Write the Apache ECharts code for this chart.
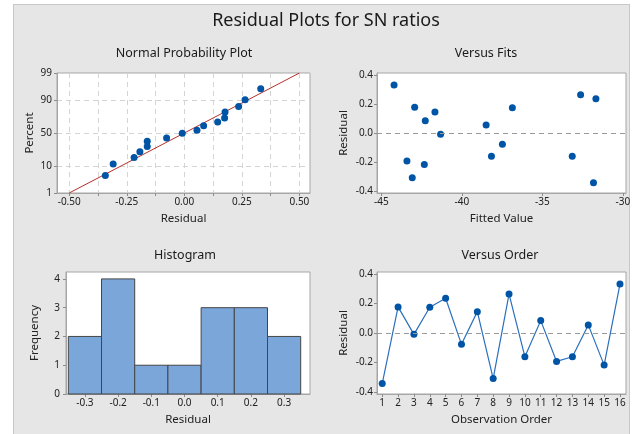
<!DOCTYPE html>
<html><head><meta charset="utf-8">
<script src="https://cdn.jsdelivr.net/npm/echarts@6/dist/echarts.min.js"></script>
<style>
html,body{margin:0;padding:0;background:#fff;}
#frame{position:absolute;left:13px;top:4px;width:617px;height:440px;background:#e6e6e6;border:1px solid #c8c8c8;box-sizing:border-box;}
#c{position:absolute;left:0;top:0;width:641px;height:434px;}
</style>
</head><body><div id="frame"></div><div id="c"></div>
<script>
// ---- data ----
const obsOrder = [1,2,3,4,5,6,7,8,9,10,11,12,13,14,15,16];
const residuals = [-0.343,0.177,-0.009,0.175,0.236,-0.077,0.145,-0.309,0.264,-0.161,0.084,-0.193,-0.161,0.055,-0.218,0.332];
const fittedValues = [-31.82,-42.93,-41.32,-36.86,-31.67,-37.48,-41.67,-43.08,-32.62,-38.16,-42.27,-43.41,-33.14,-38.49,-42.33,-44.21];
const probPercents = [5.0,11.4,17.2,23.4,30.2,37.3,42.3,49.5,54.1,61.2,66.5,72.0,79.3,84.7,90.2,95.7];
const fitLineX = [-0.5, 0.5];
const fitLineP = [1, 99];
const histCenters = [-0.3,-0.2,-0.1,0.0,0.1,0.2,0.3];
const histCounts = [2,4,1,1,3,3,2];
const binWidth = 0.1;
const probTicks = [1,10,50,90,99];
const probXTicks = [-0.5,-0.375,-0.25,-0.125,0,0.125,0.25,0.375,0.5];
const probXLabels = [-0.5,-0.25,0,0.25,0.5];
const fitXTicks = [-45,-40,-35,-30];
const residTicks = [-0.4,-0.2,0,0.2,0.4];
const freqTicks = [0,1,2,3,4];

// inverse standard normal CDF (Acklam)
function normInv(p){
  const a=[-3.969683028665376e+01,2.209460984245205e+02,-2.759285104469687e+02,1.383577518672690e+02,-3.066479806614716e+01,2.506628277459239e+00];
  const b=[-5.447609879822406e+01,1.615858368580409e+02,-1.556989798598866e+02,6.680131188771972e+01,-1.328068155288572e+01];
  const c=[-7.784894002430293e-03,-3.223964580411365e-01,-2.400758277161838e+00,-2.549732539343734e+00,4.374664141464968e+00,2.938163982698783e+00];
  const d=[7.784695709041462e-03,3.224671290700398e-01,2.445134137142996e+00,3.754408661907416e+00];
  const pl=0.02425;
  let q,r;
  if(p<pl){q=Math.sqrt(-2*Math.log(p));return (((((c[0]*q+c[1])*q+c[2])*q+c[3])*q+c[4])*q+c[5])/((((d[0]*q+d[1])*q+d[2])*q+d[3])*q+1);}
  if(p>1-pl){q=Math.sqrt(-2*Math.log(1-p));return -(((((c[0]*q+c[1])*q+c[2])*q+c[3])*q+c[4])*q+c[5])/((((d[0]*q+d[1])*q+d[2])*q+d[3])*q+1);}
  q=p-0.5;r=q*q;
  return (((((a[0]*r+a[1])*r+a[2])*r+a[3])*r+a[4])*r+a[5])*q/(((((b[0]*r+b[1])*r+b[2])*r+b[3])*r+b[4])*r+1);
}
const z = p => normInv(p/100);

const sortedRes = residuals.slice().sort((a,b)=>a-b);
const probData = sortedRes.map((r,i)=>[r, z(probPercents[i])]);
const fitLineData = fitLineX.map((x,i)=>[x, z(fitLineP[i])]);
const probTickZ = probTicks.map(z);
const fitsData = fittedValues.map((f,i)=>[f, residuals[i]]);
const orderData = obsOrder.map((o,i)=>[o, residuals[i]]);
const histData = histCenters.map((c,i)=>[c, histCounts[i]]);

const FONT = '"Noto Sans", "Open Sans", sans-serif';
const AX = '#a6a6a6';
const BLUE = '#0054a6';
const LBL = '#222';

function axisBase(extra){
  return Object.assign({
    type:'value',
    axisLine:{show:true, onZero:false, lineStyle:{color:AX, width:1}},
    axisTick:{show:true, length:3, lineStyle:{color:'#8c8c8c'}},
    axisLabel:{color:LBL, fontSize:10, fontFamily:FONT, margin:4},
    splitLine:{show:false},
    nameLocation:'middle',
    nameTextStyle:{color:'#222', fontSize:11.5, fontFamily:FONT}
  }, extra);
}
const zeroLine = {silent:true, symbol:'none', label:{show:false},
  lineStyle:{color:'#9a9a9a', type:[5,4], width:1}, data:[{yAxis:0}]};

const gridBase = {show:true, backgroundColor:'#fff', borderColor:AX, borderWidth:1, containLabel:false};

const option = {
  animation:false,
  backgroundColor:'transparent',
  textStyle:{fontFamily:FONT},
  grid:[
    Object.assign({left:57, top:73, width:253, height:120}, gridBase),
    Object.assign({left:377, top:73, width:249, height:120}, gridBase),
    Object.assign({left:66, top:272, width:244, height:122}, gridBase),
    Object.assign({left:377, top:272, width:249, height:122}, gridBase)
  ],
  xAxis:[
    axisBase({gridIndex:0, min:-0.553, max:0.546, name:'Residual', nameGap:20,
      axisTick:{show:true, length:3, customValues:probXTicks, lineStyle:{color:'#8c8c8c'}},
      axisLabel:{color:LBL, fontSize:10, fontFamily:FONT, margin:4, customValues:probXLabels, formatter:v=>v.toFixed(2)},
      splitLine:{show:true, lineStyle:{color:'#d4d4d4', type:[5,4]}}}),
    axisBase({gridIndex:1, min:-45.27, max:-29.8, name:'Fitted Value', nameGap:20,
      axisTick:{show:true, length:3, customValues:fitXTicks, lineStyle:{color:'#8c8c8c'}},
      axisLabel:{color:LBL, fontSize:10, fontFamily:FONT, margin:4, customValues:fitXTicks, formatter:v=>String(v)}}),
    axisBase({gridIndex:2, min:-0.357, max:0.378, name:'Residual', nameGap:20,
      axisTick:{show:true, length:3, customValues:histCenters, lineStyle:{color:'#8c8c8c'}},
      axisLabel:{color:LBL, fontSize:10, fontFamily:FONT, margin:4, customValues:histCenters, formatter:v=>v.toFixed(1)}}),
    axisBase({gridIndex:3, min:0.67, max:16.38, name:'Observation Order', nameGap:20,
      axisTick:{show:true, length:3, customValues:obsOrder, lineStyle:{color:'#8c8c8c'}},
      axisLabel:{color:LBL, fontSize:10, fontFamily:FONT, margin:4, customValues:obsOrder, formatter:v=>String(v)}})
  ],
  yAxis:[
    axisBase({gridIndex:0, min:z(1), max:z(99), name:'Percent', nameGap:21,
      axisTick:{show:true, length:3, customValues:probTickZ, lineStyle:{color:'#8c8c8c'}},
      axisLabel:{color:LBL, fontSize:10, fontFamily:FONT, margin:5, customValues:probTickZ,
        formatter:v=>{let best=probTicks[0],bd=1e9;probTicks.forEach((p,i)=>{const d=Math.abs(probTickZ[i]-v);if(d<bd){bd=d;best=p;}});return String(best);}},
      splitLine:{show:true, lineStyle:{color:'#d4d4d4', type:[5,4]}}}),
    axisBase({gridIndex:1, min:-0.414, max:0.414, name:'Residual', nameGap:27,
      axisTick:{show:true, length:3, customValues:residTicks, lineStyle:{color:'#8c8c8c'}},
      axisLabel:{color:LBL, fontSize:10, fontFamily:FONT, margin:4, customValues:residTicks, formatter:v=>v.toFixed(1)}}),
    axisBase({gridIndex:2, min:0, max:4.24, name:'Frequency', nameGap:25,
      axisTick:{show:true, length:3, customValues:freqTicks, lineStyle:{color:'#8c8c8c'}},
      axisLabel:{color:LBL, fontSize:10, fontFamily:FONT, margin:6, customValues:freqTicks, formatter:v=>String(v)}}),
    axisBase({gridIndex:3, min:-0.414, max:0.414, name:'Residual', nameGap:27,
      axisTick:{show:true, length:3, customValues:residTicks, lineStyle:{color:'#8c8c8c'}},
      axisLabel:{color:LBL, fontSize:10, fontFamily:FONT, margin:4, customValues:residTicks, formatter:v=>v.toFixed(1)}})
  ],
  series:[
    {type:'line', xAxisIndex:0, yAxisIndex:0, data:fitLineData, symbol:'none', z:2,
      lineStyle:{color:'#b5302a', width:1}},
    {type:'scatter', xAxisIndex:0, yAxisIndex:0, data:probData, symbolSize:7, z:3,
      itemStyle:{color:BLUE, opacity:1}},
    {type:'scatter', xAxisIndex:1, yAxisIndex:1, data:fitsData, symbolSize:7, z:3,
      itemStyle:{color:BLUE, opacity:1}, markLine:zeroLine},
    {type:'custom', xAxisIndex:2, yAxisIndex:2, data:histData, z:2,
      renderItem:(params, api)=>{
        const c = api.value(0), n = api.value(1);
        const p0 = api.coord([c-binWidth/2, n]);
        const p1 = api.coord([c+binWidth/2, 0]);
        return {type:'rect', shape:{x:p0[0], y:p0[1], width:p1[0]-p0[0], height:p1[1]-p0[1]},
          style:{fill:'#7ba6da', stroke:'#454545', lineWidth:1}};
      }},
    {type:'line', xAxisIndex:3, yAxisIndex:3, data:orderData, symbol:'circle', symbolSize:7, z:3,
      lineStyle:{color:'#2a6fbe', width:1.2}, itemStyle:{color:BLUE}, markLine:zeroLine}
  ],
  graphic:[
    {type:'text', x:326, y:21, style:{text:'Residual Plots for SN ratios', fontSize:18, fontFamily:FONT, fill:'#1a1a1a', align:'center', verticalAlign:'middle', textAlign:'center', textVerticalAlign:'middle'}},
    {type:'text', x:184, y:53, style:{text:'Normal Probability Plot', fontSize:12.5, fontFamily:FONT, fill:'#1a1a1a', align:'center', verticalAlign:'middle', textAlign:'center', textVerticalAlign:'middle'}},
    {type:'text', x:486, y:53, style:{text:'Versus Fits', fontSize:12.5, fontFamily:FONT, fill:'#1a1a1a', align:'center', verticalAlign:'middle', textAlign:'center', textVerticalAlign:'middle'}},
    {type:'text', x:185, y:255, style:{text:'Histogram', fontSize:12.5, fontFamily:FONT, fill:'#1a1a1a', align:'center', verticalAlign:'middle', textAlign:'center', textVerticalAlign:'middle'}},
    {type:'text', x:500, y:255, style:{text:'Versus Order', fontSize:12.5, fontFamily:FONT, fill:'#1a1a1a', align:'center', verticalAlign:'middle', textAlign:'center', textVerticalAlign:'middle'}}
  ]
};
const chart = echarts.init(document.getElementById('c'), null, {renderer:'canvas'});
chart.setOption(option);
</script>
</body></html>
